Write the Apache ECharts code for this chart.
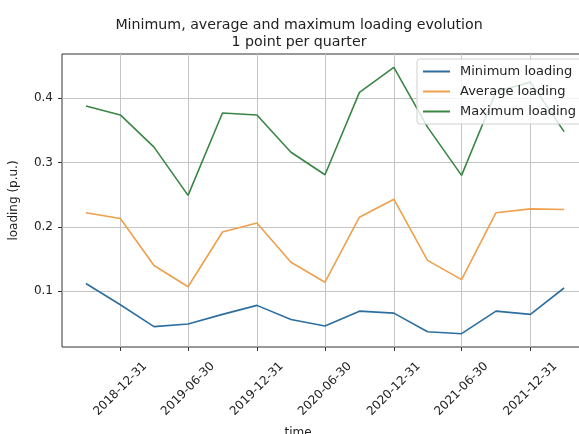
<!DOCTYPE html>
<html>
<head>
<meta charset="utf-8">
<script src="https://cdn.jsdelivr.net/npm/echarts@6/dist/echarts.min.js"></script>
<style>
  html, body { margin: 0; padding: 0; background: #fff; overflow: hidden; }
  #chart { width: 579px; height: 434px; }
</style>
</head>
<body>
<div id="chart"></div>
<script>
const dates = ['2018-09-30','2018-12-31','2019-03-31','2019-06-30','2019-09-30','2019-12-31','2020-03-31','2020-06-30','2020-09-30','2020-12-31','2021-03-31','2021-06-30','2021-09-30','2021-12-31','2022-03-31'];
const minLoading = [0.112,0.079,0.045,0.049,0.064,0.078,0.056,0.046,0.069,0.066,0.037,0.034,0.069,0.064,0.105];
const avgLoading = [0.222,0.213,0.140,0.107,0.192,0.206,0.145,0.114,0.215,0.243,0.148,0.118,0.222,0.228,0.227];
const maxLoading = [0.388,0.374,0.324,0.249,0.377,0.374,0.316,0.281,0.409,0.448,0.355,0.280,0.410,0.425,0.348];
const xTicks = ['2018-12-31','2019-06-30','2019-12-31','2020-06-30','2020-12-31','2021-06-30','2021-12-31'];
const yTicks = [0.1, 0.2, 0.3, 0.4];
const seriesNames = ['Minimum loading', 'Average loading', 'Maximum loading'];
const colors = ['#2c6f9f', '#eea04c', '#3a8645'];

const toTs = s => Date.UTC(+s.slice(0,4), +s.slice(5,7) - 1, +s.slice(8,10));
const fmt = v => new Date(v).toISOString().slice(0,10);

const xs = dates.map(toTs);
const xRange = xs[xs.length-1] - xs[0];
const xMin = xs[0] - 0.05 * xRange;
const xMax = xs[xs.length-1] + 0.05 * xRange;
const allY = minLoading.concat(avgLoading, maxLoading);
const yLo = Math.min(...allY), yHi = Math.max(...allY);
const yMin = yLo - 0.05 * (yHi - yLo);
const yMax = yHi + 0.05 * (yHi - yLo);

const pair = arr => xs.map((x, i) => [x, arr[i]]);
const font = 'DejaVu Sans';

const chart = echarts.init(document.getElementById('chart'), null, { renderer: 'canvas' });
chart.setOption({
  animation: false,
  backgroundColor: '#fff',
  color: colors,
  title: [
    {
      text: 'Minimum, average and maximum loading evolution\n1 point per quarter',
      left: 294, top: 12, textAlign: 'center',
      textStyle: { fontFamily: font, fontSize: 14.2, fontWeight: 'normal', color: '#222', lineHeight: 17 }
    },
    {
      text: 'time',
      left: 293, top: 422, textAlign: 'center',
      textStyle: { fontFamily: font, fontSize: 12, fontWeight: 'normal', color: '#222' }
    }
  ],
  legend: {
    orient: 'vertical',
    left: 417, top: 59,
    padding: [5, 10, 5, 6],
    itemGap: 5,
    itemWidth: 27, itemHeight: 2,
    icon: 'rect',
    backgroundColor: 'rgba(255,255,255,0.8)',
    borderColor: '#d0d0d0', borderWidth: 1, borderRadius: 3,
    textStyle: { fontFamily: font, fontSize: 13, color: '#222', lineHeight: 15, padding: [0,0,0,5] },
    data: seriesNames
  },
  grid: {
    left: 62, top: 54, width: 526, bottom: 87,
    containLabel: false,
    outerBoundsMode: 'none',
    show: true, borderColor: '#333', borderWidth: 1, backgroundColor: '#fff'
  },
  xAxis: {
    type: 'value',
    min: xMin, max: xMax,
    axisLine: { show: false },
    axisTick: { show: true, length: 4, lineStyle: { color: '#333' }, customValues: xTicks.map(toTs) },
    axisLabel: {
      customValues: xTicks.map(toTs),
      formatter: fmt,
      rotate: 45, align: 'center', verticalAlign: 'middle', margin: 42,
      fontFamily: font, fontSize: 12, color: '#222'
    },
    splitLine: { show: true, lineStyle: { color: '#c4c4c4', width: 1 } }
  },
  yAxis: {
    type: 'value',
    min: yMin, max: yMax,
    name: 'loading (p.u.)', nameLocation: 'middle', nameGap: 42,
    nameTextStyle: { fontFamily: font, fontSize: 12, color: '#222' },
    axisLine: { show: false },
    axisTick: { show: true, length: 4, lineStyle: { color: '#333' }, customValues: yTicks },
    axisLabel: {
      customValues: yTicks,
      formatter: v => v.toFixed(1),
      margin: 9, fontFamily: font, fontSize: 12, color: '#222'
    },
    splitLine: { show: true, lineStyle: { color: '#c4c4c4', width: 1 } }
  },
  series: [
    { name: seriesNames[0], type: 'line', data: pair(minLoading), showSymbol: false, lineStyle: { width: 1.6 } },
    { name: seriesNames[1], type: 'line', data: pair(avgLoading), showSymbol: false, lineStyle: { width: 1.6 } },
    { name: seriesNames[2], type: 'line', data: pair(maxLoading), showSymbol: false, lineStyle: { width: 1.6 } }
  ]
});
</script>
</body>
</html>
